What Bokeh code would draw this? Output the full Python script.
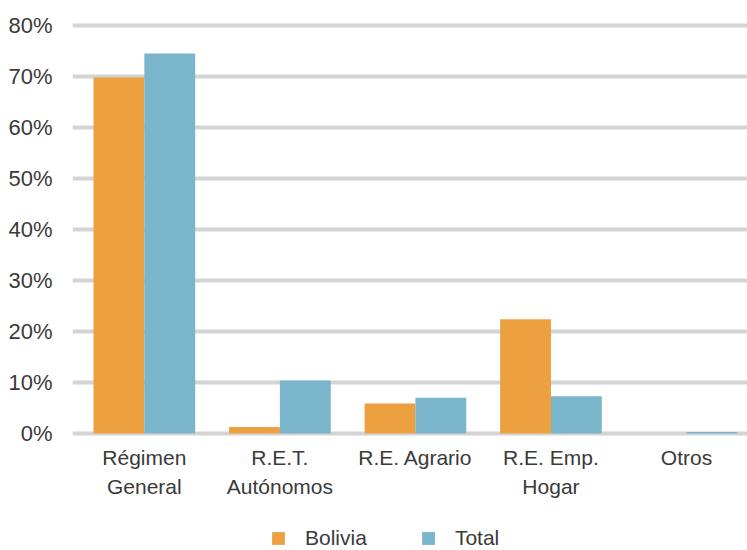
from bokeh.plotting import figure
from bokeh.layouts import column
from bokeh.models import ColumnDataSource, Range1d, FixedTicker, PrintfTickFormatter, Legend, LegendItem
from bokeh.transform import dodge
from bokeh.embed import file_html
from bokeh.resources import INLINE

categories = ["Régimen\nGeneral", "R.E.T.\nAutónomos", "R.E. Agrario", "R.E. Emp.\nHogar", "Otros"]
series_names = ["Bolivia", "Total"]
bolivia = [69.8, 1.3, 5.9, 22.4, 0.0]
total = [74.5, 10.4, 7.0, 7.3, 0.3]
y_ticks = [0, 10, 20, 30, 40, 50, 60, 70, 80]

ORANGE = "#EDA03F"
BLUE = "#79B5CB"
FONT = "Liberation Sans"
TXT = "#3a3a3a"
FS = "21px"

idx = list(range(len(categories)))
source = ColumnDataSource(data=dict(x=idx, bolivia=bolivia, total=total))

p = figure(width=747, height=515, output_backend="svg", toolbar_location=None,
           x_range=Range1d(-0.53, 4.45), y_range=Range1d(-1.37, 80.98),
           min_border_left=72, min_border_right=0, min_border_top=20, min_border_bottom=75,
           background_fill_color="white", border_fill_color="white", outline_line_color=None)

p.xgrid.grid_line_color = None
p.ygrid.grid_line_color = "#d4d4d4"
p.ygrid.grid_line_width = 4
p.ygrid.ticker = FixedTicker(ticks=y_ticks)

p.vbar(x=dodge("x", -0.1875, range=p.x_range), top="bolivia", width=0.375, bottom=0,
       source=source, fill_color=ORANGE, line_color=None)
p.vbar(x=dodge("x", 0.1875, range=p.x_range), top="total", width=0.375, bottom=0,
       source=source, fill_color=BLUE, line_color=None)

p.yaxis.ticker = FixedTicker(ticks=y_ticks)
p.yaxis.formatter = PrintfTickFormatter(format="%d%%")
p.yaxis.axis_line_color = None
p.yaxis.major_tick_line_color = None
p.yaxis.minor_tick_line_color = None
p.yaxis.major_tick_out = 0
p.yaxis.major_tick_in = 0
p.yaxis.major_label_standoff = 20
p.yaxis.major_label_text_font = FONT
p.yaxis.major_label_text_font_size = "22px"
p.yaxis.major_label_text_color = TXT

p.xaxis.ticker = FixedTicker(ticks=idx)
p.xaxis.major_label_overrides = {i: c for i, c in zip(idx, categories)}
p.xaxis.axis_line_color = None
p.xaxis.major_tick_line_color = None
p.xaxis.minor_tick_line_color = None
p.xaxis.major_tick_out = 0
p.xaxis.major_tick_in = 0
p.xaxis.major_label_standoff = 5
p.xaxis.major_label_text_font = FONT
p.xaxis.major_label_text_font_size = FS
p.xaxis.major_label_text_color = TXT
p.xaxis.major_label_text_line_height = 1.3

# legend strip (the same bars, drawn below its visible range, only feed the legend)
lg = figure(width=747, height=35, output_backend="svg", toolbar_location=None,
            x_range=Range1d(-0.53, 4.45), y_range=Range1d(200, 201),
            x_axis_type=None, y_axis_type=None,
            min_border_left=72, min_border_right=0, min_border_top=0, min_border_bottom=0,
            background_fill_color="white", border_fill_color="white", outline_line_color=None)
lg.xgrid.grid_line_color = None
lg.ygrid.grid_line_color = None
d1 = lg.vbar(x=dodge("x", -0.1875, range=lg.x_range), top="bolivia", width=0.375, bottom=0,
             source=source, fill_color=ORANGE, line_color=None)
d2 = lg.vbar(x=dodge("x", 0.1875, range=lg.x_range), top="total", width=0.375, bottom=0,
             source=source, fill_color=BLUE, line_color=None)
legend = Legend(items=[LegendItem(label=series_names[0], renderers=[d1]),
                       LegendItem(label=series_names[1], renderers=[d2])],
                orientation="horizontal", location=(198, 0),
                glyph_width=16, glyph_height=16, label_standoff=19, spacing=53,
                label_text_font=FONT, label_text_font_size=FS, label_text_color=TXT,
                border_line_color=None, background_fill_alpha=0, margin=0, padding=0)
lg.add_layout(legend)

layout = column(p, lg, spacing=0)
open("out.html", "w").write(file_html(layout, INLINE))
